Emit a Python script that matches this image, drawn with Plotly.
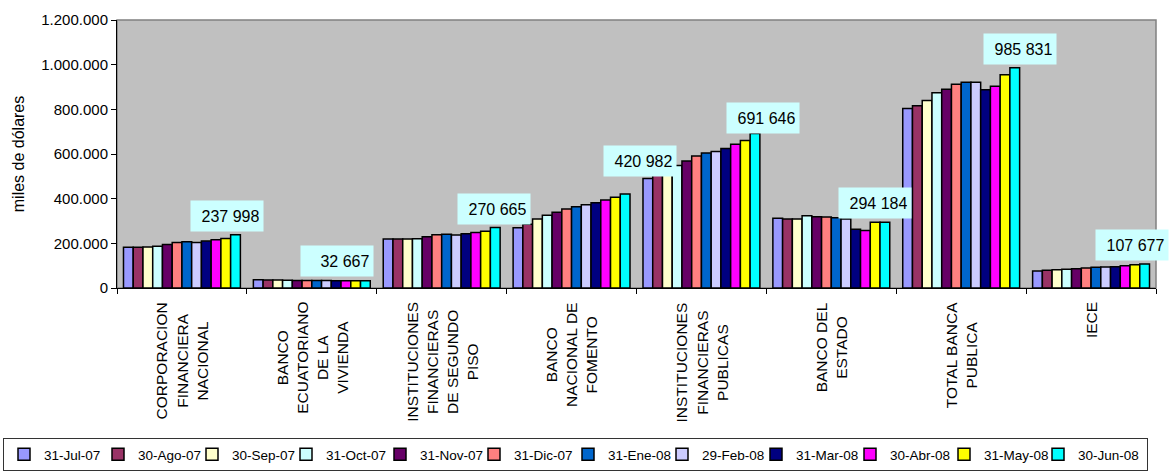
import plotly.graph_objects as go

# ---------------- data ----------------
categories = [
    "CORPORACION FINANCIERA NACIONAL",
    "BANCO ECUATORIANO DE LA VIVIENDA",
    "INSTITUCIONES FINANCIERAS DE SEGUNDO PISO",
    "BANCO NACIONAL DE FOMENTO",
    "INSTITUCIONES FINANCIERAS PUBLICAS",
    "BANCO DEL ESTADO",
    "TOTAL BANCA PUBLICA",
    "IECE",
]
category_labels = [
    "CORPORACION<br>FINANCIERA<br>NACIONAL",
    "BANCO<br>ECUATORIANO<br>DE LA<br>VIVIENDA",
    "INSTITUCIONES<br>FINANCIERAS<br>DE SEGUNDO<br>PISO",
    "BANCO<br>NACIONAL DE<br>FOMENTO",
    "INSTITUCIONES<br>FINANCIERAS<br>PUBLICAS",
    "BANCO DEL<br>ESTADO",
    "TOTAL BANCA<br>PUBLICA",
    "IECE",
]
dates = ["31-Jul-07", "30-Ago-07", "30-Sep-07", "31-Oct-07", "31-Nov-07", "31-Dic-07",
         "31-Ene-08", "29-Feb-08", "31-Mar-08", "30-Abr-08", "31-May-08", "30-Jun-08"]

cfn = [182500, 183000, 184000, 186500, 195000, 204000, 207000, 204000, 210000, 215500, 221100, 237998]
bev = [36500, 36000, 35500, 34500, 34000, 34000, 33500, 33500, 33000, 33000, 32900, 32667]
ifsp = [219000, 219000, 219500, 221000, 229000, 238000, 240500, 237500, 243000, 248500, 254000, 270665]
bnf = [270000, 286000, 309000, 326000, 339000, 354000, 364000, 373000, 382000, 394000, 406000, 420982]
ifp = [490000, 505000, 529000, 548000, 569000, 591000, 605000, 611000, 625000, 644000, 660000, 691646]
bde = [312000, 309000, 309000, 324000, 319000, 318000, 315000, 309000, 263000, 258000, 294000, 294184]
tbp = [804000, 816000, 840000, 874000, 890000, 912000, 921000, 921000, 888000, 903000, 955000, 985831]
iece = [76000, 79000, 82000, 84000, 86000, 90000, 93000, 94000, 95000, 100000, 104000, 107677]

groups = [cfn, bev, ifsp, bnf, ifp, bde, tbp, iece]

# ---------------- style ----------------
colors = ["#9999FF", "#993366", "#FFFFCC", "#CCFFFF", "#660066", "#FF8080",
          "#0066CC", "#CCCCFF", "#000080", "#FF00FF", "#FFFF00", "#00FFFF"]
# pixel offsets (dx, dy) of the value labels relative to the last bar of each group
label_offsets = [(45, 3), (25, 4), (52, 2.5), (68, 17), (62, 0), (44, 3.5), (59, 3), (41, 3)]
FONT = "Liberation Sans, Arial, sans-serif"

W, H = 1174, 472
ML, MR, MT, MB = 117, 18, 20, 184
plot_w, plot_h = W - ML - MR, H - MT - MB

fig = go.Figure()
for j, d in enumerate(dates):
    fig.add_trace(go.Bar(
        x=list(range(len(categories))),
        y=[g[j] for g in groups],
        name=d,
        marker=dict(color=colors[j], line=dict(color="black", width=1.5)),
        hovertext=categories,
        legendwidth=64 if j == len(dates) - 1 else 49,
    ))

annotations = []
# value labels (last period)
for i, g in enumerate(groups):
    v = g[-1]
    dx, dy = label_offsets[i]
    annotations.append(dict(
        x=i, y=v, xref="x", yref="y",
        text=f"{v:,}".replace(",", " "),
        showarrow=False, xanchor="center", yanchor="bottom",
        xshift=dx, yshift=dy,
        bgcolor="#CCFFFF", font=dict(family=FONT, size=16, color="black"),
        width=65, height=23, align="right", valign="middle", borderpad=3.5,
    ))
# category labels
for i, lab in enumerate(category_labels):
    annotations.append(dict(
        x=i, y=0, xref="x", yref="y",
        text=lab, textangle=-90, showarrow=False,
        xanchor="center", yanchor="top", yshift=-12, align="center",
        font=dict(family=FONT, size=15.5, color="black"),
    ))

fig.update_layout(
    width=W, height=H,
    margin=dict(l=ML, r=MR, t=MT, b=MB, autoexpand=False),
    paper_bgcolor="white", plot_bgcolor="#C0C0C0",
    font=dict(family=FONT, size=15, color="black"),
    separators=",.",
    barmode="group", bargap=0.1, bargroupgap=0,
    showlegend=True,
    legend=dict(
        orientation="h", xref="paper", yref="paper",
        x=(3 - ML) / plot_w, y=-(H - 1 - (H - MB)) / plot_h,
        xanchor="left", yanchor="bottom",
        bordercolor="#333333", borderwidth=1, bgcolor="white",
        font=dict(family=FONT, size=13.5, color="black"),
        itemwidth=30, traceorder="normal",
    ),
    annotations=annotations,
    shapes=[dict(type="rect", xref="paper", yref="paper", x0=0, y0=0, x1=1, y1=1,
                 line=dict(color="#808080", width=1.5), layer="below")],
    xaxis=dict(
        type="category", range=[-0.5, len(categories) - 0.5],
        showticklabels=False, ticks="outside", ticklen=5, tickcolor="black",
        tickson="boundaries", showline=True, linecolor="black", linewidth=1,
        showgrid=False, zeroline=False, automargin=False,
    ),
    yaxis=dict(
        range=[0, 1200000], dtick=200000, tickformat=",d",
        ticks="outside", ticklen=5, tickcolor="black",
        showline=True, linecolor="black", linewidth=1,
        showgrid=False, zeroline=False, automargin=False,
        title=dict(text="miles de dólares", font=dict(family=FONT, size=16), standoff=12),
        tickfont=dict(family=FONT, size=15),
    ),
)

fig.write_html("out.html", config={"displayModeBar": False},
               post_script="document.body.style.margin='0';")
